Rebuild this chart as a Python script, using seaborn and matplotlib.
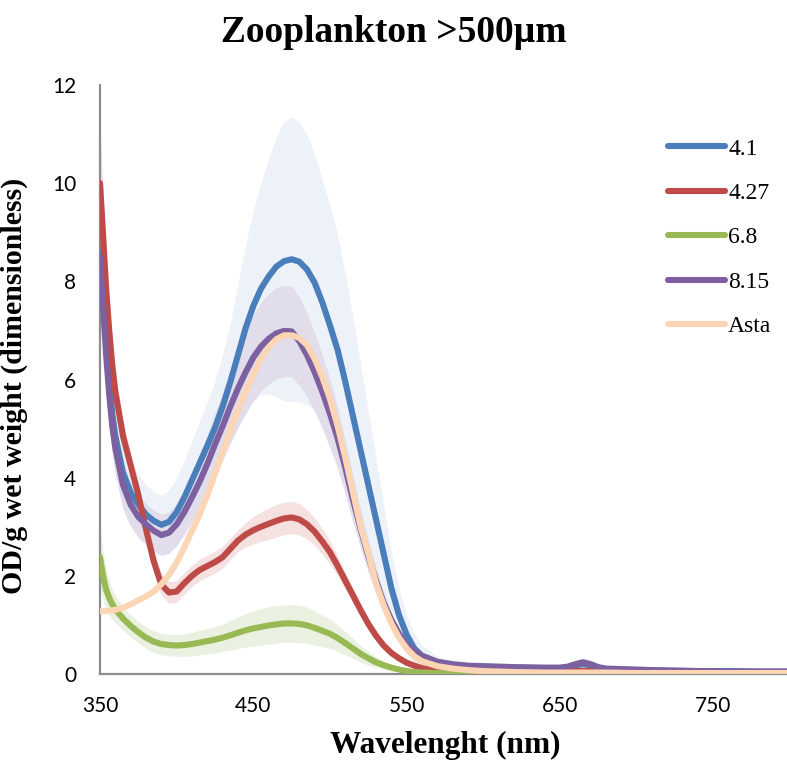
import numpy as np
import pandas as pd
import matplotlib
matplotlib.use("Agg")
import matplotlib.pyplot as plt
from matplotlib.ticker import MultipleLocator
import seaborn as sns

# Wavelength grid (nm)
wavelength = [350, 352, 354, 356, 358, 360, 365, 370, 375, 380, 385,
              390, 395, 400, 405, 410, 415, 420, 425, 430, 435, 440,
              445, 450, 455, 460, 465, 470, 475, 480, 485, 490, 495,
              500, 505, 510, 515, 520, 525, 530, 535, 540, 545, 550,
              555, 560, 570, 580, 590, 600,
              620, 640, 650, 655, 660, 665, 670, 675, 680,
              700, 720, 740, 760, 780, 800]

# Mean spectra (OD per g wet weight)
od_41 = [8.6, 7.6, 6.7, 5.95, 5.3, 4.85, 4.1, 3.7, 3.45, 3.25, 3.12,
         3.04, 3.1, 3.3, 3.6, 3.95, 4.3, 4.65, 5.02, 5.45, 5.95, 6.5,
         7.05, 7.5, 7.85, 8.1, 8.3, 8.41, 8.45, 8.4, 8.24, 7.97, 7.57,
         7.1, 6.6, 5.95, 5.25, 4.55, 3.85, 3.15, 2.45, 1.75, 1.2, 0.8,
         0.52, 0.37, 0.24, 0.18, 0.16, 0.15,
         0.13, 0.12, 0.12, 0.13, 0.17, 0.21, 0.17, 0.12, 0.1,
         0.08, 0.07, 0.06, 0.06, 0.05, 0.05]
od_427 = [10.0, 8.95, 7.85, 7.0, 6.3, 5.75, 4.85, 4.25, 3.65, 2.95, 2.3,
          1.82, 1.66, 1.68, 1.85, 2.0, 2.12, 2.2, 2.28, 2.38, 2.55, 2.72,
          2.84, 2.93, 3.0, 3.06, 3.12, 3.17, 3.19, 3.15, 3.05, 2.9, 2.7,
          2.48, 2.2, 1.9, 1.6, 1.3, 1.02, 0.78, 0.58, 0.43, 0.32, 0.23,
          0.17, 0.12, 0.08, 0.06, 0.05, 0.05,
          0.04, 0.04, 0.04, 0.05, 0.06, 0.07, 0.06, 0.04, 0.04,
          0.03, 0.03, 0.03, 0.03, 0.03, 0.03]
od_68 = [2.38, 2.0, 1.72, 1.55, 1.42, 1.32, 1.13, 0.98, 0.85, 0.74, 0.66,
         0.61, 0.59, 0.58, 0.59, 0.61, 0.64, 0.67, 0.7, 0.74, 0.79, 0.84,
         0.89, 0.93, 0.96, 0.99, 1.01, 1.03, 1.03, 1.02, 0.99, 0.94, 0.88,
         0.82, 0.73, 0.63, 0.52, 0.41, 0.32, 0.24, 0.18, 0.13, 0.09, 0.06,
         0.04, 0.03, 0.02, 0.01, 0.01, 0.01,
         0.01, 0.01, 0.01, 0.01, 0.01, 0.01, 0.01, 0.01, 0.01,
         0.01, 0.01, 0.01, 0.01, 0.01, 0.01]
od_815 = [8.5, 7.5, 6.5, 5.7, 5.05, 4.6, 3.85, 3.45, 3.2, 3.05, 2.92,
          2.83, 2.88, 3.05, 3.3, 3.6, 3.92, 4.28, 4.68, 5.05, 5.45, 5.82,
          6.15, 6.45, 6.67, 6.83, 6.94, 6.99, 6.98, 6.78, 6.5, 6.15, 5.75,
          5.3, 4.8, 4.2, 3.55, 2.95, 2.4, 1.9, 1.45, 1.1, 0.82, 0.6,
          0.47, 0.37, 0.25, 0.2, 0.17, 0.16,
          0.14, 0.13, 0.13, 0.15, 0.2, 0.24, 0.2, 0.14, 0.11,
          0.09, 0.07, 0.06, 0.05, 0.05, 0.05]
od_asta = [1.28, 1.28, 1.28, 1.29, 1.3, 1.31, 1.35, 1.42, 1.5, 1.58, 1.68,
           1.83, 2.02, 2.27, 2.58, 2.92, 3.25, 3.65, 4.08, 4.52, 4.98, 5.38,
           5.75, 6.1, 6.42, 6.66, 6.82, 6.9, 6.9, 6.85, 6.7, 6.42, 6.05,
           5.6, 5.05, 4.4, 3.7, 3.0, 2.45, 1.85, 1.4, 1.03, 0.74, 0.52,
           0.36, 0.26, 0.16, 0.11, 0.08, 0.06,
           0.04, 0.03, 0.03, 0.03, 0.03, 0.03, 0.03, 0.03, 0.03,
           0.02, 0.02, 0.02, 0.02, 0.02, 0.02]

# Standard deviations (shaded error bands)
sd_41 = [1.2, 1.1, 1.0, 0.9, 0.8, 0.75, 0.7, 0.65, 0.62, 0.6, 0.6,
         0.6, 0.65, 0.7, 0.75, 0.8, 0.85, 0.9, 0.95, 1.05, 1.2, 1.45,
         1.7, 1.95, 2.15, 2.4, 2.65, 2.85, 2.9, 2.85, 2.75, 2.6, 2.5,
         2.45, 2.35, 2.2, 2.0, 1.75, 1.5, 1.25, 1.0, 0.75, 0.55, 0.4,
         0.3, 0.22, 0.12, 0.08, 0.06, 0.05,
         0.05, 0.05, 0.05, 0.05, 0.06, 0.06, 0.06, 0.05, 0.05,
         0.05, 0.05, 0.05, 0.05, 0.05, 0.05]
sd_427 = [1.2, 0.9, 0.7, 0.55, 0.45, 0.4, 0.3, 0.25, 0.22, 0.22, 0.22,
          0.22, 0.22, 0.22, 0.22, 0.22, 0.22, 0.22, 0.22, 0.22, 0.22, 0.22,
          0.25, 0.28, 0.3, 0.32, 0.33, 0.33, 0.33, 0.32, 0.3, 0.28, 0.26,
          0.24, 0.2, 0.17, 0.14, 0.12, 0.1, 0.08, 0.06, 0.05, 0.04, 0.03,
          0.03, 0.03, 0.03, 0.03, 0.03, 0.03,
          0.02, 0.02, 0.02, 0.02, 0.02, 0.02, 0.02, 0.02, 0.02,
          0.02, 0.02, 0.02, 0.02, 0.02, 0.02]
sd_68 = [0.6, 0.5, 0.4, 0.35, 0.3, 0.28, 0.24, 0.22, 0.22, 0.22, 0.22,
         0.22, 0.22, 0.22, 0.23, 0.24, 0.25, 0.26, 0.27, 0.28, 0.3, 0.32,
         0.34, 0.36, 0.37, 0.38, 0.38, 0.38, 0.38, 0.38, 0.37, 0.35, 0.32,
         0.3, 0.27, 0.24, 0.2, 0.17, 0.14, 0.11, 0.08, 0.06, 0.04, 0.03,
         0.02, 0.02, 0.02, 0.01, 0.01, 0.01,
         0.01, 0.01, 0.01, 0.01, 0.01, 0.01, 0.01, 0.01, 0.01,
         0.01, 0.01, 0.01, 0.01, 0.01, 0.01]
sd_815 = [0.6, 0.55, 0.55, 0.55, 0.55, 0.55, 0.5, 0.45, 0.42, 0.42, 0.42,
          0.42, 0.42, 0.42, 0.45, 0.5, 0.55, 0.6, 0.65, 0.7, 0.75, 0.8,
          0.85, 0.88, 0.9, 0.92, 0.93, 0.93, 0.92, 0.9, 0.85, 0.8, 0.75,
          0.7, 0.62, 0.55, 0.48, 0.4, 0.33, 0.27, 0.21, 0.16, 0.12, 0.09,
          0.07, 0.05, 0.04, 0.03, 0.03, 0.03,
          0.03, 0.03, 0.03, 0.03, 0.03, 0.03, 0.03, 0.03, 0.03,
          0.03, 0.03, 0.03, 0.03, 0.03, 0.03]

labels = ["4.1", "4.27", "6.8", "8.15", "Asta"]
means = [od_41, od_427, od_68, od_815, od_asta]
spreads = [sd_41, sd_427, sd_68, sd_815, None]
line_colors = ["#4A7EBB", "#BE4B48", "#98B954", "#7D60A0", "#FCD5B4"]
band_colors = ["#EDF1F8", "#F3DCDB", "#E7EFDC", "#DED8E8", None]
band_alpha = [0.95, 0.85, 0.85, 0.8, 0]

for arr in means + [s for s in spreads if s is not None]:
    assert len(arr) == len(wavelength)

frames = []
for lab, m, s in zip(labels, means, spreads):
    frames.append(pd.DataFrame({
        "wavelength": wavelength, "od": m,
        "sd": s if s is not None else [0.0] * len(wavelength),
        "series": lab}))
df = pd.concat(frames, ignore_index=True)

sns.set_style("white")
plt.rcParams["font.family"] = ["Liberation Serif", "DejaVu Serif"]
plt.rcParams["text.color"] = "black"
plt.rcParams["axes.labelcolor"] = "black"

fig = plt.figure(figsize=(7.87, 7.67), dpi=100)
ax = fig.add_axes([100 / 787, 93 / 767, 690 / 787, 589 / 767])

# error bands first, underneath every line
for lab, bc, ba in zip(labels, band_colors, band_alpha):
    if bc is None:
        continue
    sub = df[df["series"] == lab]
    ax.fill_between(sub["wavelength"], sub["od"] - sub["sd"],
                    sub["od"] + sub["sd"], color=bc, alpha=ba,
                    lw=0, zorder=1)

for i, (lab, lc) in enumerate(zip(labels, line_colors)):
    sub = df[df["series"] == lab]
    sns.lineplot(data=sub, x="wavelength", y="od", color=lc, lw=4.4,
                 label=lab, ax=ax, zorder=3 + i,
                 solid_capstyle="round", solid_joinstyle="round")

ax.set_xlim(350, 800)
ax.set_ylim(0, 12)
ax.xaxis.set_major_locator(MultipleLocator(100, offset=50))
ax.xaxis.set_minor_locator(MultipleLocator(20, offset=10))
ax.yaxis.set_major_locator(MultipleLocator(2))

grey = "#8C8C8C"
for side in ["top", "right"]:
    ax.spines[side].set_visible(False)
for side in ["left", "bottom"]:
    ax.spines[side].set_color(grey)
    ax.spines[side].set_linewidth(1.6)
    ax.spines[side].set_zorder(2)

ax.tick_params(axis="x", which="major", direction="inout", length=13,
               width=1.6, color=grey, labelcolor="black", pad=9)
ax.tick_params(axis="x", which="minor", direction="in", length=6,
               width=1.4, color=grey)
ax.tick_params(axis="y", which="major", direction="out", length=7,
               width=1.6, color=grey, labelcolor="black", pad=10)
for t in ax.get_xticklabels() + ax.get_yticklabels():
    t.set_fontfamily(["Lato", "DejaVu Sans"])
    t.set_fontsize(15)

ax.set_xlabel("Wavelenght (nm)", fontsize=22.5, fontweight="bold",
              labelpad=11)
ax.set_ylabel("OD/g wet weight (dimensionless)", fontsize=21.5,
              fontweight="bold", labelpad=10)
ax.yaxis.set_label_coords(-0.105, 0.49)
fig.text(0.5, 1 - 33 / 767, "Zooplankton >500µm", ha="center", va="center",
         fontsize=27, fontweight="bold")

leg = ax.legend(loc="upper left", bbox_to_anchor=(668 / 787, 1 - 138 / 767),
                bbox_transform=fig.transFigure, frameon=False, fontsize=17,
                handlelength=2.4, handletextpad=0.15, labelspacing=0.97,
                borderpad=0, borderaxespad=0)
for h in leg.get_lines():
    h.set_linewidth(4.4)
    h.set_solid_capstyle("round")

fig.savefig("out.png", dpi=100)
